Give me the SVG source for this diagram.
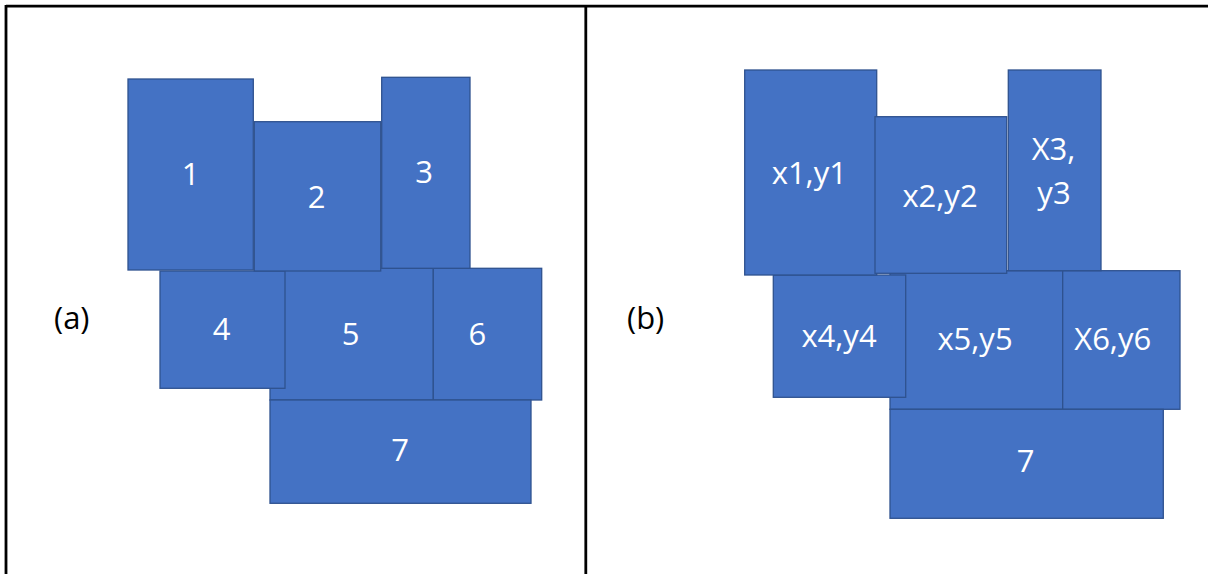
<svg xmlns="http://www.w3.org/2000/svg" width="1208" height="574" viewBox="0 0 1208 574">
<style>
.b{fill:#4472C4;stroke:#2F528F;stroke-width:1.3}
.t{font-family:"Open Sans","DejaVu Sans",sans-serif;font-size:31px;fill:#ffffff;text-anchor:middle}
.l{font-family:"Open Sans","DejaVu Sans",sans-serif;font-size:31px;fill:#000000}
.frame{stroke:#000;stroke-width:2.8;fill:none}
</style>
<rect width="1208" height="574" fill="#ffffff"/>
<g id="frame">
<line class="frame" x1="6" y1="6.2" x2="1208" y2="6.2"/>
<line class="frame" x1="6" y1="5" x2="6" y2="574"/>
<line class="frame" x1="585.8" y1="5" x2="585.8" y2="574"/>
</g>
<g id="a">
<text class="l" x="54" y="329">(a)</text>
<g id="a5"><rect class="b" x="270" y="268.3" width="163.3" height="131.7"/><text class="t" x="350.7" y="345">5</text></g>
<g id="a4"><rect class="b" x="160" y="271" width="125" height="117.3"/><text class="t" x="221.7" y="340">4</text></g>
<g id="a6"><rect class="b" x="433.3" y="268.3" width="108.4" height="131.7"/><text class="t" x="477.3" y="345">6</text></g>
<g id="a1"><rect class="b" x="128" y="79" width="125.3" height="191"/><text class="t" x="190.7" y="185">1</text></g>
<g id="a2"><rect class="b" x="254.3" y="121.7" width="126.4" height="149.3"/><text class="t" x="316.7" y="207.7">2</text></g>
<g id="a3"><rect class="b" x="381.7" y="77.3" width="88.3" height="191"/><text class="t" x="424" y="183.3">3</text></g>
<g id="a7"><rect class="b" x="270" y="400" width="261" height="103.3"/><text class="t" x="400" y="461">7</text></g>
</g>
<g id="b">
<text class="l" x="627" y="329">(b)</text>
<g id="b5"><rect class="b" x="890" y="270.7" width="172.7" height="138.6"/><text class="t" x="975" y="350">x5,y5</text></g>
<g id="b4"><rect class="b" x="773.3" y="275" width="132.4" height="122.3"/><text class="t" x="839" y="346.7">x4,y4</text></g>
<g id="b6"><rect class="b" x="1062.7" y="270.7" width="117.3" height="138.6"/><text class="t" x="1112.7" y="350">X6,y6</text></g>
<g id="b1"><rect class="b" x="744.7" y="70" width="132" height="205"/><text class="t" x="809.3" y="184">x1,y1</text></g>
<g id="b2"><rect class="b" x="875" y="116.7" width="131.7" height="156.6"/><text class="t" x="940" y="206.7">x2,y2</text></g>
<g id="b3"><rect class="b" x="1008.3" y="70" width="92.7" height="200.7"/><text class="t" x="1053.5" y="160">X3,</text><text class="t" x="1054" y="204">y3</text></g>
<g id="b7"><rect class="b" x="890" y="409.3" width="273.3" height="109"/><text class="t" x="1025.7" y="471.7">7</text></g>
</g>
</svg>
